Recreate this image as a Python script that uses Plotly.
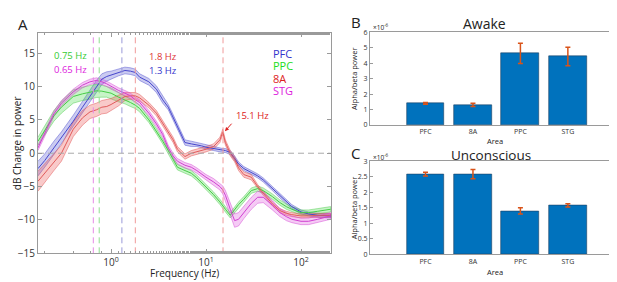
import numpy as np
import plotly.graph_objects as go

W, H = 617, 282

# ---------------- data: panel A ----------------
freqs = [0.17, 0.2, 0.25, 0.3, 0.4, 0.5, 0.6, 0.7, 0.8, 0.9,
         1.0, 1.2, 1.4, 1.6, 1.8, 2.0, 2.5, 3, 3.5, 4,
         4.5, 5, 6, 7, 8, 9, 10, 12, 14, 15,
         16, 18, 20, 22, 25, 30, 35, 40, 50, 60,
         70, 80, 100, 120, 150, 205]

pfc = [-2.3, -1.1, 0.8, 2.3, 4.8, 6.9, 8.6, 10.0, 11.1, 11.5,
       11.7, 12.1, 12.4, 12.3, 12.1, 11.4, 10.7, 9.6, 8.0, 6.9,
       5.4, 4.0, 1.6, 1.4, 1.3, 1.1, 0.9, 0.7, 0.5, 0.4,
       0.4, 0.1, -0.7, -1.6, -2.3, -2.9, -3.4, -4.0, -5.3, -6.4,
       -7.3, -8.0, -8.8, -9.1, -9.3, -9.4]
pfc_sem = [1.1, 1.0, 1.0, 0.9, 0.9, 0.9, 0.9, 0.9, 0.8, 0.7,
           0.6, 0.5, 0.5, 0.5, 0.5, 0.5, 0.5, 0.5, 0.5, 0.4,
           0.4, 0.4, 0.4, 0.4, 0.3, 0.3, 0.3, 0.3, 0.3, 0.3,
           0.3, 0.3, 0.3, 0.3, 0.3, 0.3, 0.3, 0.3, 0.3, 0.3,
           0.3, 0.3, 0.3, 0.3, 0.3, 0.3]

ppc = [1.8, 3.4, 5.6, 6.9, 8.5, 8.9, 9.1, 9.35, 9.3, 9.2,
       9.0, 8.4, 8.0, 7.6, 7.2, 6.7, 5.0, 3.3, 1.8, 0.4,
       -1.0, -2.1, -2.6, -3.0, -3.7, -4.4, -5.0, -6.2, -7.3, -7.8,
       -8.4, -9.3, -8.4, -7.7, -6.9, -5.6, -5.3, -5.6, -6.5, -7.4,
       -8.0, -8.4, -8.9, -8.9, -8.7, -8.4]
ppc_sem = [0.6, 0.7, 0.8, 0.9, 1.0, 1.0, 1.0, 1.0, 0.9, 0.8,
           0.8, 0.7, 0.6, 0.6, 0.5, 0.5, 0.4, 0.4, 0.4, 0.4,
           0.4, 0.4, 0.4, 0.4, 0.4, 0.4, 0.4, 0.4, 0.4, 0.4,
           0.4, 0.4, 0.4, 0.4, 0.4, 0.4, 0.4, 0.4, 0.4, 0.4,
           0.4, 0.4, 0.4, 0.4, 0.4, 0.4]

a8 = [-4.2, -3.0, -1.3, 0.0, 3.6, 5.3, 6.2, 6.5, 6.9, 7.0,
      7.3, 7.9, 8.5, 8.6, 8.6, 8.3, 7.2, 6.0, 4.5, 3.2,
      2.0, 0.6, -0.5, 0.0, 0.2, 0.4, 0.6, 1.0, 2.0, 3.2,
      1.6, 0.0, -0.9, -2.2, -3.2, -3.6, -5.0, -6.0, -7.6, -8.6,
      -9.0, -9.2, -9.4, -9.4, -9.3, -9.3]
a8_sem = [1.5, 1.4, 1.3, 1.2, 1.1, 1.1, 1.0, 1.0, 1.0, 1.0,
          0.9, 0.8, 0.6, 0.5, 0.5, 0.5, 0.4, 0.4, 0.4, 0.4,
          0.4, 0.4, 0.4, 0.4, 0.4, 0.4, 0.4, 0.4, 0.4, 0.4,
          0.4, 0.4, 0.4, 0.4, 0.4, 0.4, 0.3, 0.3, 0.3, 0.3,
          0.3, 0.3, 0.3, 0.3, 0.3, 0.3]

stg = [0.8, 2.9, 5.9, 7.5, 9.2, 10.2, 10.7, 10.9, 10.7, 10.4,
       10.0, 9.4, 9.0, 8.6, 8.0, 7.6, 6.0, 4.4, 2.8, 0.8,
       -0.4, -1.2, -1.8, -2.1, -2.6, -3.2, -3.6, -4.3, -5.0, -5.5,
       -6.3, -8.4, -10.1, -9.9, -8.9, -7.5, -6.6, -6.6, -7.8, -8.9,
       -9.5, -9.9, -10.2, -10.2, -9.9, -9.4]
stg_sem = [0.4, 0.4, 0.4, 0.4, 0.4, 0.4, 0.4, 0.4, 0.4, 0.4,
           0.4, 0.4, 0.4, 0.4, 0.4, 0.4, 0.4, 0.4, 0.4, 0.4,
           0.4, 0.4, 0.4, 0.4, 0.4, 0.4, 0.4, 0.5, 0.5, 0.6,
           0.7, 0.9, 1.0, 1.0, 0.9, 0.9, 0.9, 0.8, 0.7, 0.6,
           0.6, 0.5, 0.5, 0.5, 0.5, 0.5]

peak_freqs = {"STG": 0.65, "PPC": 0.75, "PFC": 1.3, "8A": 1.8}
peak_8a_beta = 15.1

# ---------------- data: panels B, C ----------------
areas = ["PFC", "8A", "PPC", "STG"]
awake = [1.40, 1.30, 4.63, 4.43]
awake_err = [0.05, 0.10, 0.65, 0.60]
uncon = [2.59, 2.59, 1.40, 1.58]
uncon_err = [0.06, 0.15, 0.10, 0.05]

# ---------------- styles ----------------
FONT = "Open Sans"
series = [
    ("PFC", pfc, pfc_sem, "#4646cc", "rgba(70,70,204,0.28)", "rgba(70,70,204,0.55)"),
    ("PPC", ppc, ppc_sem, "#46cc46", "rgba(70,220,70,0.30)", "rgba(70,200,70,0.55)"),
    ("8A", a8, a8_sem, "#e05a5a", "rgba(235,90,90,0.32)", "rgba(225,80,80,0.6)"),
    ("STG", stg, stg_sem, "#d040d0", "rgba(220,70,220,0.28)", "rgba(210,60,210,0.55)"),
]
vline_colors = {"STG": "#e58ae5", "PPC": "#8ee08e", "PFC": "#9a9ad8", "8A": "#f09a9a"}


def px(x):
    return x / W


def py(y):
    return 1 - y / H


fig = go.Figure()

f = np.array(freqs)
for name, m, s, lc, fc, ec in series:
    m = np.array(m)
    s = np.array(s)
    xs = np.concatenate([f, f[::-1]])
    ys = np.concatenate([m + s, (m - s)[::-1]])
    fig.add_trace(go.Scatter(x=xs, y=ys, fill="toself", fillcolor=fc,
                             line=dict(color=ec, width=0.8), mode="lines",
                             hoverinfo="skip", showlegend=False,
                             xaxis="x", yaxis="y"))
for name, m, s, lc, fc, ec in series:
    fig.add_trace(go.Scatter(x=freqs, y=m, mode="lines",
                             line=dict(color=lc, width=1), showlegend=False,
                             xaxis="x", yaxis="y"))

# vertical dashed lines at peak frequencies
for name, pf in peak_freqs.items():
    fig.add_trace(go.Scatter(x=[pf, pf], y=[-15, 18], mode="lines",
                             line=dict(color=vline_colors[name], width=1, dash="6px,4px"),
                             showlegend=False, xaxis="x", yaxis="y"))
fig.add_trace(go.Scatter(x=[peak_8a_beta, peak_8a_beta], y=[-15, 18], mode="lines",
                         line=dict(color=vline_colors["8A"], width=1, dash="6px,4px"),
                         showlegend=False, xaxis="x", yaxis="y"))
# zero line
fig.add_trace(go.Scatter(x=[freqs[0], freqs[-1]], y=[0, 0], mode="lines",
                         line=dict(color="#aaaaaa", width=1, dash="6px,4px"),
                         showlegend=False, xaxis="x", yaxis="y"))

# bars
fig.add_trace(go.Bar(x=[1, 2, 3, 4], y=awake, width=0.8,
                     marker=dict(color="#0072BD", line=dict(color="#1f3f5f", width=0.6)),
                     error_y=dict(type="data", array=awake_err, color="#D95319",
                                  thickness=1.5, width=2.5),
                     showlegend=False, xaxis="x2", yaxis="y2"))
fig.add_trace(go.Bar(x=[1, 2, 3, 4], y=uncon, width=0.8,
                     marker=dict(color="#0072BD", line=dict(color="#1f3f5f", width=0.6)),
                     error_y=dict(type="data", array=uncon_err, color="#D95319",
                                  thickness=1.5, width=2.5),
                     showlegend=False, xaxis="x3", yaxis="y3"))

axcol = "#9a9a9a"
tickfont = dict(family=FONT, size=10, color="#333333")
smallfont = dict(family=FONT, size=7, color="#333333")

fig.update_layout(
    width=W, height=H, margin=dict(l=0, r=0, t=0, b=0),
    paper_bgcolor="white", plot_bgcolor="white",
    font=dict(family=FONT),
    xaxis=dict(type="log", range=[np.log10(0.17), np.log10(207)],
               domain=[px(30), px(323)], anchor="y",
               tickvals=[1, 10, 100],
               ticktext=["10<sup>0</sup>", "10<sup>1</sup>", "10<sup>2</sup>"],
               ticks="inside", ticklen=4, tickcolor=axcol,
               minor=dict(ticks="inside", ticklen=2, tickcolor=axcol),
               showline=True, linecolor=axcol, linewidth=1, mirror="allticks",
               showgrid=False, zeroline=False, tickfont=tickfont),
    yaxis=dict(range=[-15, 18], domain=[py(251), py(21)], anchor="x",
               tickvals=[-15, -10, -5, 0, 5, 10, 15],
               ticks="inside", ticklen=4, tickcolor=axcol,
               showline=True, linecolor=axcol, linewidth=1, mirror="allticks",
               showgrid=False, zeroline=False, tickfont=tickfont),
    xaxis2=dict(range=[-0.17, 5.12], domain=[px(362), px(613)], anchor="y2",
                tickvals=[1, 2, 3, 4], ticktext=areas,
                ticks="", showline=True, linecolor=axcol, mirror=True,
                showgrid=False, zeroline=False, tickfont=smallfont),
    yaxis2=dict(range=[0, 6], domain=[py(117), py(20)], anchor="x2",
                tickvals=[0, 1, 2, 3, 4, 5, 6],
                ticks="inside", ticklen=3, tickcolor=axcol,
                showline=True, linecolor=axcol, mirror="allticks",
                showgrid=False, zeroline=False, tickfont=smallfont),
    xaxis3=dict(range=[-0.17, 5.12], domain=[px(362), px(613)], anchor="y3",
                tickvals=[1, 2, 3, 4], ticktext=areas,
                ticks="", showline=True, linecolor=axcol, mirror=True,
                showgrid=False, zeroline=False, tickfont=smallfont),
    yaxis3=dict(range=[0, 3], domain=[py(252), py(155)], anchor="x3",
                tickvals=[0, 0.5, 1, 1.5, 2, 2.5, 3],
                ticktext=["0", "0.5", "1", "1.5", "2", "2.5", "3"],
                ticks="inside", ticklen=3, tickcolor=axcol,
                showline=True, linecolor=axcol, mirror="allticks",
                showgrid=False, zeroline=False, tickfont=smallfont),
    bargap=0,
)

ann = []


def text(x, y, s, size, color="#222222", xanchor="center", yanchor="middle", angle=0):
    ann.append(dict(x=px(x), y=py(y), xref="paper", yref="paper", text=s,
                    showarrow=False, xanchor=xanchor, yanchor=yanchor, textangle=angle,
                    borderpad=0,
                    font=dict(family=FONT, size=size, color=color)))


# panel labels
text(15, 11, "A", 15)
text(348, 9, "B", 15)
text(348, 146, "C", 15)

# panel A annotations
text(45, 44, "0.75 Hz", 9.5, "#33cc33", xanchor="left")
text(45, 59, "0.65 Hz", 9.5, "#dd22dd", xanchor="left")
text(140, 45, "1.8 Hz", 9.5, "#dd3333", xanchor="left")
text(140, 60, "1.3 Hz", 9.5, "#3333cc", xanchor="left")
text(264, 42, "PFC", 11, "#3333cc", xanchor="left")
text(264, 55, "PPC", 11, "#22dd22", xanchor="left")
text(264, 68, "8A", 11, "#dd2222", xanchor="left")
text(264, 81, "STG", 11, "#dd22dd", xanchor="left")
text(227, 107, "15.1 Hz", 9.5, "#dd2222", xanchor="left")
text(176, 272, "Frequency (Hz)", 10)
text(9, 136, "dB Change in power", 10, angle=-90)

# panels B/C text
text(476, 11, "Awake", 14)
text(483, 148, "Unconscious", 13.5)
text(487, 134, "Area", 7.5)
text(487, 270, "Area", 7.5)
text(346, 69, "Alpha/beta power", 7.5, angle=-90)
text(346, 204, "Alpha/beta power", 7.5, angle=-90)
text(364, 15, "×10<sup>-6</sup>", 6.5, xanchor="left")
text(364, 150, "×10<sup>-6</sup>", 6.5, xanchor="left")

# arrow to 15.1 Hz peak
ann.append(dict(x=np.log10(peak_8a_beta) + 0.02, y=a8[freqs.index(15)] + 0.1,
                xref="x", yref="y", ax=8, ay=-9,
                showarrow=True, arrowhead=2, arrowsize=0.8, arrowwidth=1,
                arrowcolor="#dd2222", text=""))
fig.update_layout(annotations=ann)

fig.write_html("out.html")
